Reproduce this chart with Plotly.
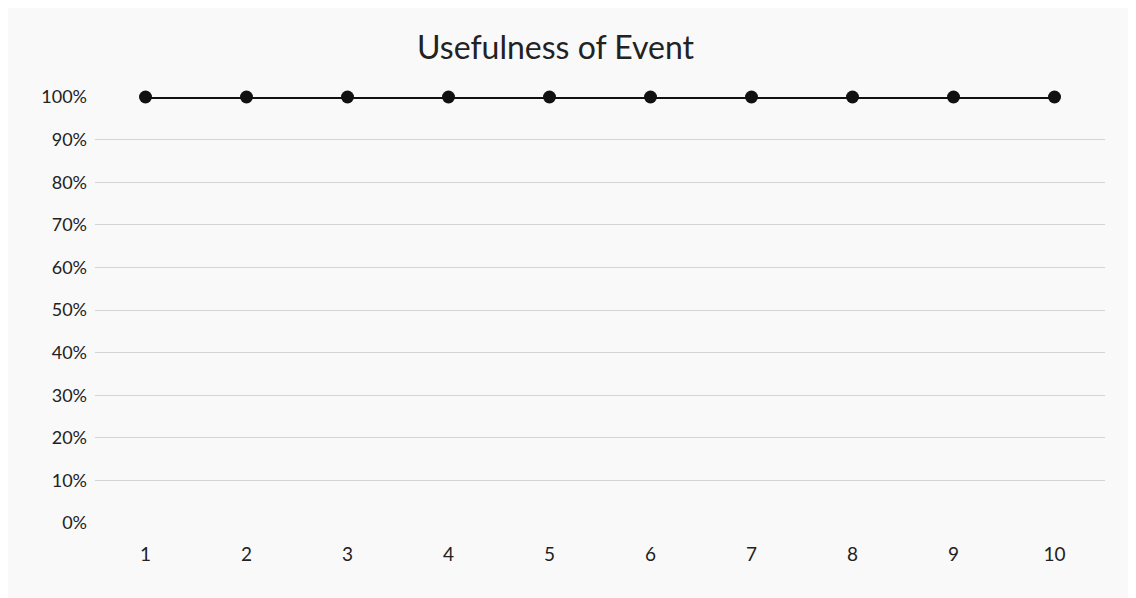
import plotly.graph_objects as go

categories = ["1", "2", "3", "4", "5", "6", "7", "8", "9", "10"]
usefulness = [1.00, 1.00, 1.00, 1.00, 1.00, 1.00, 1.00, 1.00, 1.00, 1.00]
y_ticks = [0, 0.1, 0.2, 0.3, 0.4, 0.5, 0.6, 0.7, 0.8, 0.9, 1.0]
y_labels = ["0%", "10%", "20%", "30%", "40%", "50%", "60%", "70%", "80%", "90%", "100%"]

fig = go.Figure()
fig.add_trace(go.Scatter(
    x=categories, y=usefulness, mode="lines+markers",
    line=dict(color="#111111", width=4),
    marker=dict(color="#111111", size=13),
    cliponaxis=False, showlegend=False,
))

fig.update_layout(
    width=1136, height=598,
    paper_bgcolor="#f9f9f9", plot_bgcolor="#f9f9f9",
    margin=dict(l=87, r=39, t=89, b=83),
    title=dict(text="Usefulness of Event", x=0.482, xanchor="center", y=0.933, yanchor="middle",
               font=dict(family="Lato, Open Sans, sans-serif", size=32, color="#222222")),
    font=dict(family="Lato, Open Sans, sans-serif", color="#222222"),
    xaxis=dict(type="category", range=[-0.5, 9.5], showgrid=False, zeroline=False,
               showline=False, ticks="", tickfont=dict(size=19), ticklabelstandoff=18),
    yaxis=dict(range=[0, 1], tickvals=y_ticks, ticktext=y_labels, showgrid=True,
               gridcolor="#d4d4d4", gridwidth=1, zeroline=False, showline=False,
               tickfont=dict(size=18), ticklabelstandoff=7),
)

fig.write_html("out.html")
